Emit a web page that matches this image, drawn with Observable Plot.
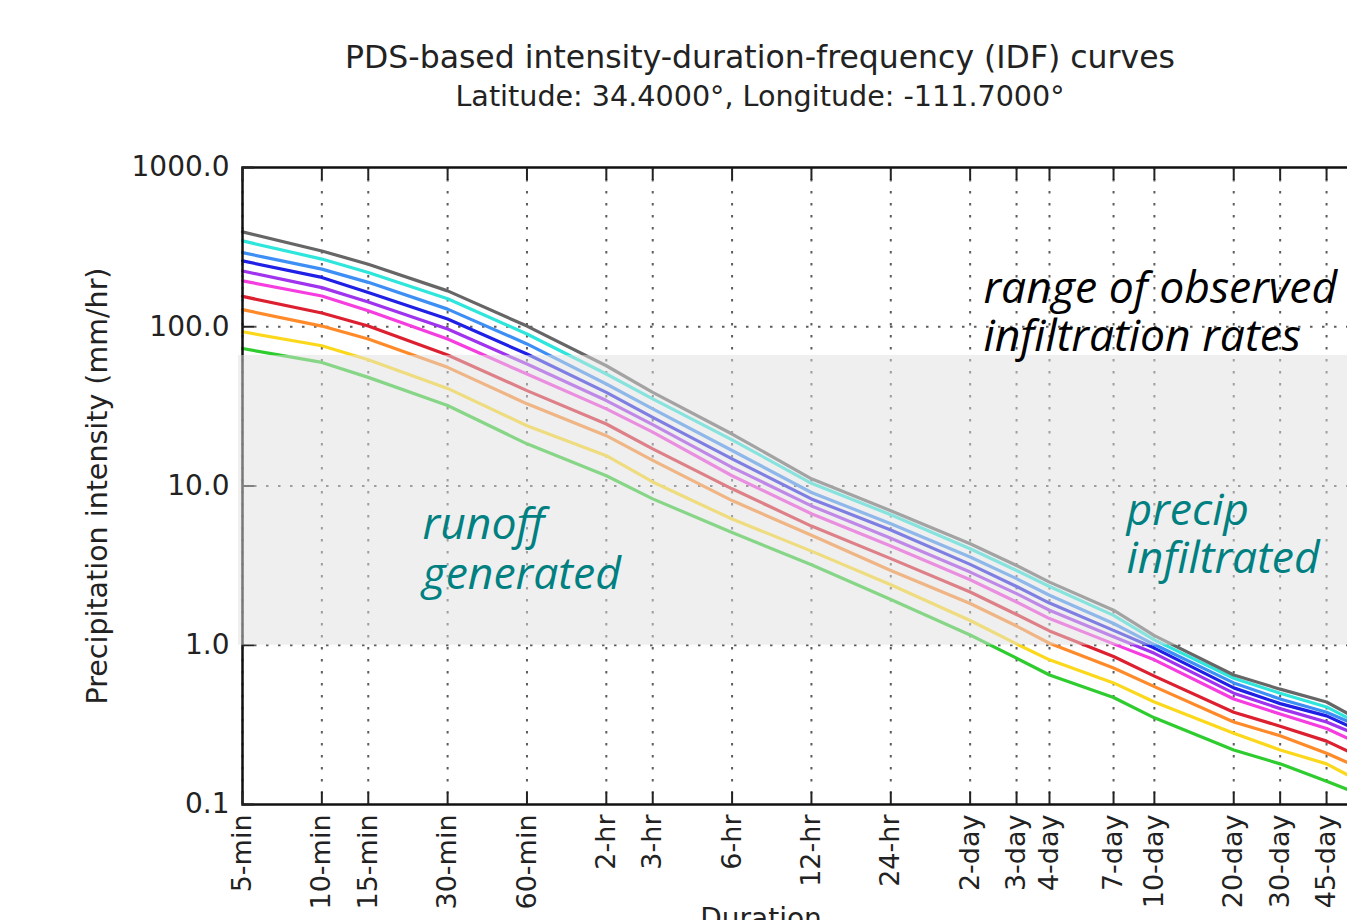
<!DOCTYPE html>
<html>
<head>
<meta charset="utf-8">
<script src="https://cdn.jsdelivr.net/npm/d3@7"></script>
<script src="https://cdn.jsdelivr.net/npm/@observablehq/plot@0.6"></script>
<style>
  html, body { margin: 0; padding: 0; background: #fff; overflow: hidden; width: 1347px; height: 920px; }
  #wrap { position: relative; width: 1347px; height: 920px; overflow: hidden; }
  #head { position: relative; height: 120px; width: 1520px; font-family: "DejaVu Sans", sans-serif; color: #222; }
  #title { position: absolute; top: 38px; left: 0; width: 1520px; text-align: center; font-size: 31.5px; line-height: 38px; white-space: nowrap; }
  #subtitle { position: absolute; top: 80px; left: 0; width: 1520px; text-align: center; font-size: 28.6px; line-height: 32px; white-space: nowrap; }
  #chart { width: 1400px; }
  #chart svg { display: block; max-width: none !important; width: 1400px; height: 814px; }
</style>
</head>
<body>
<div id="wrap">
  <div id="head">
    <div id="title">PDS-based intensity-duration-frequency (IDF) curves</div>
    <div id="subtitle">Latitude: 34.4000°, Longitude: -111.7000°</div>
  </div>
  <div id="chart"></div>
</div>
<script>
// Durations in minutes and their tick labels
const durations = [5, 10, 15, 30, 60, 120, 180, 360, 720, 1440, 2880, 4320, 5760, 10080, 14400, 28800, 43200, 64800, 86400];
const durationLabels = ["5-min", "10-min", "15-min", "30-min", "60-min", "2-hr", "3-hr", "6-hr", "12-hr", "24-hr",
  "2-day", "3-day", "4-day", "7-day", "10-day", "20-day", "30-day", "45-day", "60-day"];

// Average recurrence intervals (years) and their colours
const returnPeriods = [1, 2, 5, 10, 25, 50, 100, 200, 500, 1000];
const seriesColors = ["#2ecc2e", "#fcd81c", "#ff8a2a", "#dd2030", "#f53de0", "#a033ee", "#1f1fe6", "#3d8ff5", "#2ee6dc", "#666666"];

// Precipitation intensity (mm/hr) per recurrence interval, one value per duration
const ari1    = [73, 59.7, 48.1, 32.0, 18.4, 11.6, 8.3, 5.1, 3.2, 1.94, 1.16, 0.83, 0.65, 0.47, 0.35, 0.22, 0.18, 0.14, 0.116];
const ari2    = [93, 76, 62.1, 41.0, 23.9, 15.5, 10.6, 6.2, 3.9, 2.4, 1.43, 1.02, 0.81, 0.58, 0.44, 0.28, 0.22, 0.18, 0.14];
const ari5    = [128, 101, 83.7, 55.6, 32.8, 20.7, 14.5, 8.1, 4.9, 2.95, 1.83, 1.32, 1.03, 0.72, 0.55, 0.33, 0.27, 0.21, 0.17];
const ari10   = [155, 122, 101, 66.5, 39.7, 24.5, 17.1, 9.6, 5.6, 3.5, 2.16, 1.56, 1.23, 0.85, 0.64, 0.38, 0.31, 0.25, 0.20];
const ari25   = [194, 156, 126, 83.7, 50.5, 30.5, 21.8, 11.6, 6.7, 4.2, 2.58, 1.87, 1.47, 1.02, 0.81, 0.46, 0.37, 0.30, 0.24];
const ari50   = [224, 176, 143, 96.8, 58.3, 34.4, 24.3, 13.1, 7.5, 4.7, 2.88, 2.11, 1.66, 1.13, 0.89, 0.50, 0.40, 0.33, 0.27];
const ari100  = [259, 204, 164, 112, 67.4, 38.7, 27.0, 14.8, 8.3, 5.3, 3.22, 2.34, 1.84, 1.24, 0.96, 0.54, 0.43, 0.36, 0.29];
const ari200  = [292, 230, 190, 129, 78, 43.7, 30.5, 16.7, 9.1, 5.8, 3.58, 2.62, 2.06, 1.37, 1.01, 0.58, 0.46, 0.38, 0.31];
const ari500  = [346, 266, 219, 150, 90, 50.5, 35.2, 19.5, 10.4, 6.6, 4.04, 2.95, 2.34, 1.54, 1.08, 0.62, 0.50, 0.41, 0.32];
const ari1000 = [394, 299, 247, 168, 101, 56.9, 38.7, 21.2, 11.1, 7.0, 4.34, 3.17, 2.49, 1.66, 1.15, 0.65, 0.53, 0.44, 0.34];

// Observed infiltration-rate range (mm/hr)
const infiltrationRange = [1.0, 66];
const yTicks = [0.1, 1, 10, 100, 1000];
const yGrid = [1, 10, 100];

const seriesValues = [ari1, ari2, ari5, ari10, ari25, ari50, ari100, ari200, ari500, ari1000];
const rows = [];
returnPeriods.forEach((rp, s) => {
  durations.forEach((d, i) => rows.push({ari: rp, duration: d, intensity: seriesValues[s][i]}));
});

const labelFor = d => {
  const i = durations.findIndex(v => Math.abs(v - d) / v < 1e-6);
  return i < 0 ? "" : durationLabels[i];
};

const chart = Plot.plot({
  width: 1400,
  height: 814,
  marginTop: 47,
  marginBottom: 130,
  marginLeft: 242,
  marginRight: 41,
  style: {fontFamily: "DejaVu Sans", fontSize: "27px", color: "#222", background: "transparent", maxWidth: "none"},
  x: {type: "log", domain: [durations[0], durations[durations.length - 1]], label: null},
  y: {type: "log", domain: [yTicks[0], yTicks[yTicks.length - 1]], label: null},
  color: {type: "ordinal", domain: returnPeriods, range: seriesColors},
  marks: [
    Plot.gridX({ticks: durations, stroke: "#333", strokeOpacity: 0.8, strokeWidth: 2, strokeDasharray: "2.5,9.5"}),
    Plot.gridY({ticks: yGrid, stroke: "#333", strokeOpacity: 0.8, strokeWidth: 2, strokeDasharray: "2.5,9.5"}),
    Plot.line(rows, {x: "duration", y: "intensity", z: "ari", stroke: "ari", strokeWidth: 3.2}),
    Plot.frame({stroke: "#111", strokeWidth: 2.5}),
    Plot.axisX({ticks: durations, anchor: "bottom", tickSize: -12, tickFormat: () => "", strokeWidth: 2, label: null}),
    Plot.axisX({ticks: durations, anchor: "top", tickSize: -12, tickFormat: () => "", strokeWidth: 2, label: null}),
    Plot.axisY({ticks: yTicks, anchor: "left", tickSize: -12, tickFormat: () => "", strokeWidth: 2, label: null}),
    Plot.rect([infiltrationRange], {x1: durations[0], x2: durations[durations.length - 1], y1: d => d[0], y2: d => d[1],
      fill: "#dfdfdf", fillOpacity: 0.5, insetLeft: -4}),
    Plot.axisX(durations, {anchor: "bottom", tickSize: 0, tickPadding: 10, tickRotate: -90, text: d => labelFor(d), fontSize: 27, fill: "#222", label: null}),
    Plot.axisY(yTicks, {anchor: "left", tickSize: 0, tickPadding: 13, text: d => d.toFixed(1), fontSize: 28, fill: "#222", label: null}),
    Plot.text(["Precipitation intensity (mm/hr)"], {frameAnchor: "left", textAnchor: "middle", rotate: -90, dx: -145, fontSize: 28.5, fill: "#222"}),
    Plot.text(["Duration"], {frameAnchor: "bottom", textAnchor: "middle", dx: -40, dy: 104, lineAnchor: "top", fontSize: 28, fill: "#222"}),
    Plot.text(["range of observed\ninfiltration rates"], {x: 3236, y: 124, textAnchor: "start", lineAnchor: "middle",
      fontSize: 44.5, lineHeight: 1.08, fontStyle: "italic", fontFamily: "Open Sans", fill: "#000"}),
    Plot.text(["runoff\ngenerated"], {x: 24.1, y: 4.06, textAnchor: "start", lineAnchor: "middle",
      fontSize: 44.5, lineHeight: 1.12, fontStyle: "italic", fontFamily: "Open Sans", fill: "#008080"}),
    Plot.text(["precip\ninfiltrated"], {x: 11290, y: 5.0, textAnchor: "start", lineAnchor: "middle",
      fontSize: 44.5, lineHeight: 1.06, fontStyle: "italic", fontFamily: "Open Sans", fill: "#008080"})
  ]
});
document.getElementById("chart").appendChild(chart);
</script>
</body>
</html>
